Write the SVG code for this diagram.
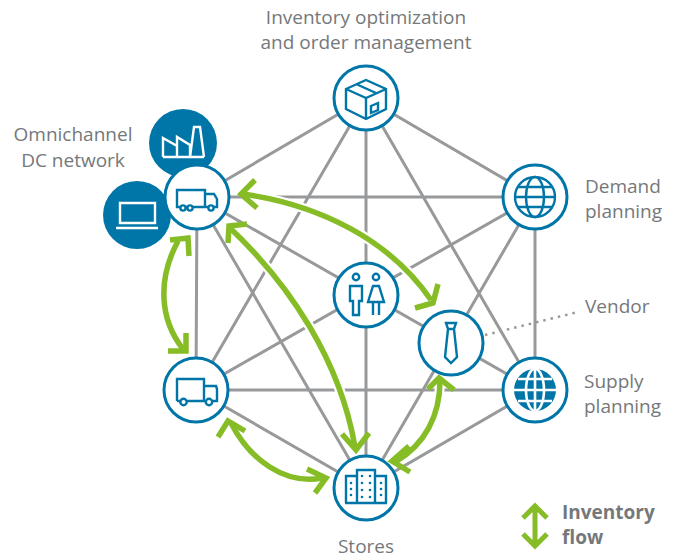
<svg xmlns="http://www.w3.org/2000/svg" width="676" height="558" viewBox="0 0 676 558">
<defs>
<style>
text{font-family:"Open Sans","Noto Sans",sans-serif;font-size:19px;fill:#75787b}
.l{stroke:#97999b;stroke-width:3;fill:none}
.halo{stroke:#fff;stroke-width:10;fill:none}
.g{stroke:#86bc25;stroke-width:5.500;fill:none}
.n{fill:#fff;stroke:#0076a8;stroke-width:3}
.i{fill:none;stroke:#0076a8;stroke-width:2.400}
.w{fill:none;stroke:#fff;stroke-width:2.400}
.b{fill:#0076a8}
</style>
</defs>
<g id="connectors">
<path class="l" d="M366 98L197 197L196 390L366 488L535 390L535 197ZM366 98L196 390M366 98L535 390M366 98V488M197 197H535M197 197L366 488M197 197L535 390M196 390H535M196 390L535 197M366 488L535 197"/>
<path d="M485 335L578 312" fill="none" stroke="#97999b" stroke-width="2.500" stroke-dasharray="2.500 5"/>
<path class="halo" d="M243 194C320 205 390 240 431 300M230 228C290 285 340 360 355 447M178 241C157 280 160 320 183 349M231 423C250 460 285 485 322 478M395 462C425 445 440 415 440 381"/>
<path class="g" d="M243 194C320 205 390 240 431 300M230 228C290 285 340 360 355 447M178 241C157 280 160 320 183 349M231 423C250 460 285 485 322 478M395 462C425 445 440 415 440 381"/>
<path class="g" d="M255 180L241 194L257 208M228 243L229 226L247 224M170 240L188 238L189 256M168 351L186 351L186 333M218 437L228 421L245 431M307 469L326 478L315 493M342 434L356 450L369 433M409 446L392 461L410 472M428 389L439 378L454 390M415 308L433 303L438 284"/>
</g>
<g id="node-factory"><circle class="b" cx="183" cy="143" r="34"/>
<path class="w" d="M163 157V138L177 146V157M177 157V137L190 145V157M190 157L194 127H200L204 157M163 157H204"/></g>
<g id="node-laptop"><circle class="b" cx="137" cy="215" r="34"/>
<path class="w" d="M120 203H155V223H120ZM116 228H158"/></g>
<g id="node-dc"><circle class="n" cx="197" cy="197" r="32"/>
<path class="i" d="M177 190H205V207H177ZM205 194H214L217 199V207H205"/>
<circle class="i" cx="183" cy="208" r="2.600" style="fill:#fff"/><circle class="i" cx="190" cy="208" r="2.600" style="fill:#fff"/><circle class="i" cx="211" cy="208" r="2.600" style="fill:#fff"/></g>
<g id="node-inventory"><circle class="n" cx="366" cy="98" r="32"/>
<path class="i" d="M346 89L366 80L386 89V109L366 119L346 109ZM346 89L366 98L386 89M366 98V119M356 84L376 93M371 106L378 103V110L371 113Z"/></g>
<g id="node-demand"><circle class="n" cx="535" cy="197" r="32"/>
<g class="i"><circle cx="535" cy="197" r="20"/><ellipse cx="535" cy="197" rx="9" ry="20"/><path d="M515 197H555M518 187H552M518 207H552"/></g></g>
<g id="node-people"><circle class="n" cx="366" cy="295" r="32"/>
<g class="i"><circle cx="356" cy="277" r="3.200"/><circle cx="376" cy="277" r="3.200"/>
<path d="M350 286H362V301H359V315H353V301H350ZM373 286H379L384 302H368ZM373 302V315M379 302V315"/></g></g>
<g id="node-vendor"><circle class="n" cx="451" cy="343" r="32"/>
<path class="i" d="M446 323H456L454 329H448ZM448 329L445 357L451 363L457 357L454 329"/></g>
<g id="node-truck"><circle class="n" cx="196" cy="390" r="32"/>
<path class="i" d="M177 401V379H204V401M177 401H180M187 401H205M204 386H216L217 389V401H212"/>
<circle class="i" cx="183.500" cy="402" r="3.200"/><circle class="i" cx="209" cy="402" r="3.200"/></g>
<g id="node-supply"><circle class="n" cx="535" cy="390" r="32"/>
<circle class="b" cx="535" cy="390" r="21"/>
<g fill="none" stroke="#fff" stroke-width="2.600"><ellipse cx="535" cy="390" rx="9" ry="21"/><path d="M535 369V411M514 390H556M518 379H552M518 401H552"/></g></g>
<g id="node-stores"><circle class="n" cx="366" cy="488" r="32"/>
<path class="i" d="M346 503V476H357M386 503V476H375M357 503V470H375V503M345 503H387"/>
<g class="b"><circle cx="351" cy="483" r="1.300"/><circle cx="351" cy="489" r="1.300"/><circle cx="351" cy="495" r="1.300"/><circle cx="381" cy="483" r="1.300"/><circle cx="381" cy="489" r="1.300"/><circle cx="381" cy="495" r="1.300"/><circle cx="362" cy="476" r="1.300"/><circle cx="370" cy="476" r="1.300"/><circle cx="362" cy="483" r="1.300"/><circle cx="370" cy="483" r="1.300"/><circle cx="362" cy="490" r="1.300"/><circle cx="370" cy="490" r="1.300"/><circle cx="362" cy="497" r="1.300"/><circle cx="370" cy="497" r="1.300"/></g></g>
<g id="labels">
<text x="366" y="24" text-anchor="middle">Inventory optimization</text>
<text x="366" y="49" text-anchor="middle">and order management</text>
<text x="73" y="141" text-anchor="middle">Omnichannel</text>
<text x="73" y="167" text-anchor="middle">DC network</text>
<text x="585" y="193">Demand</text>
<text x="585" y="218">planning</text>
<text x="585" y="313">Vendor</text>
<text x="584" y="388">Supply</text>
<text x="584" y="413">planning</text>
<text x="366" y="553" text-anchor="middle">Stores</text>
<text x="562" y="519" font-weight="700">Inventory</text>
<text x="562" y="544" font-weight="700">flow</text>
</g>
<g id="legend"><path d="M535 507V545M523 518L535 506L547 518M523 534L535 546L547 534" fill="none" stroke="#86bc25" stroke-width="5"/></g>
</svg>
